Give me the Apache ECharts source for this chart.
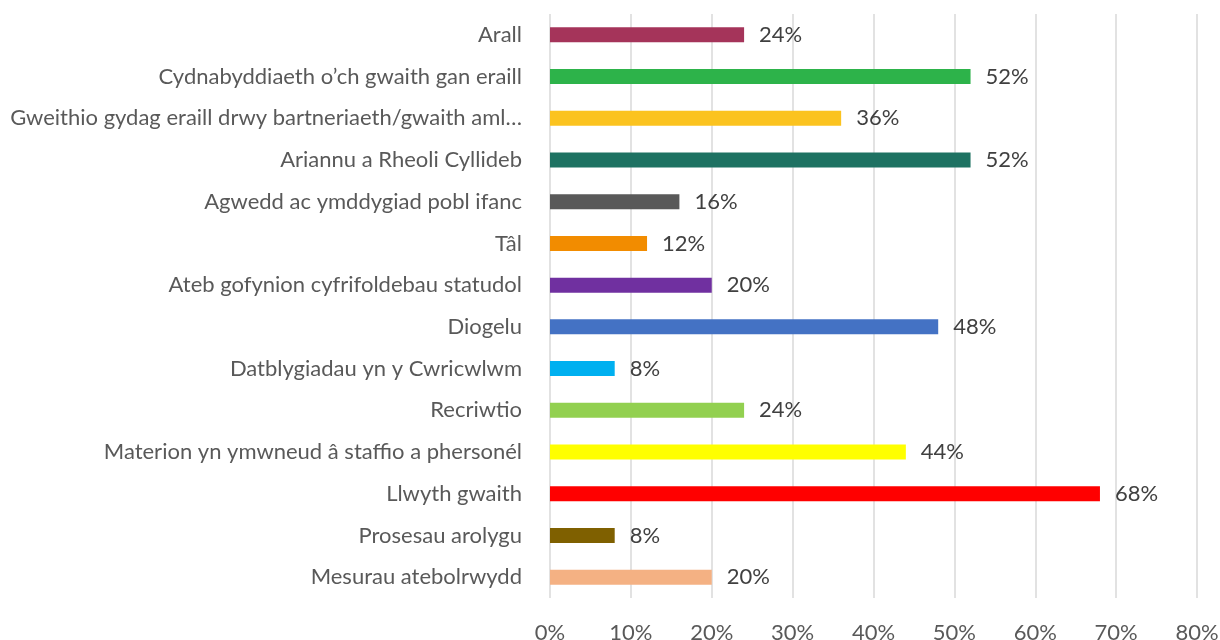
<!DOCTYPE html>
<html>
<head>
<meta charset="utf-8">
<script src="https://cdn.jsdelivr.net/npm/echarts@6/dist/echarts.min.js"></script>
<style>
  html, body { margin: 0; padding: 0; background: #fff; }
  #chart { width: 1220px; height: 640px; }
</style>
</head>
<body>
<div id="chart"></div>
<script>
// categories listed bottom to top (as the category axis draws them)
var categories = [
  'Mesurau atebolrwydd',
  'Prosesau arolygu',
  'Llwyth gwaith',
  'Materion yn ymwneud â staffio a phersonél',
  'Recriwtio',
  'Datblygiadau yn y Cwricwlwm',
  'Diogelu',
  'Ateb gofynion cyfrifoldebau statudol',
  'Tâl',
  'Agwedd ac ymddygiad pobl ifanc',
  'Ariannu a Rheoli Cyllideb',
  'Gweithio gydag eraill drwy bartneriaeth/gwaith aml…',
  'Cydnabyddiaeth o’ch gwaith gan eraill',
  'Arall'
];
var values = [20, 8, 68, 44, 24, 8, 48, 20, 12, 16, 52, 36, 52, 24];
var barColors = [
  '#F4B183', '#7F6000', '#FF0000', '#FFFF00', '#92D050', '#00B0F0', '#4472C4',
  '#7030A0', '#F28C00', '#595959', '#1E7262', '#FBC31F', '#2DB34A', '#A5345A'
];
var xTicks = [0, 10, 20, 30, 40, 50, 60, 70, 80];

var font = 'Lato, "Open Sans", sans-serif';
var chart = echarts.init(document.getElementById('chart'), null, { renderer: 'canvas' });
chart.setOption({
  animation: false,
  grid: {
    left: 550, right: 23, top: 14, bottom: 42,
    containLabel: false, outerBoundsMode: 'none'
  },
  xAxis: {
    type: 'value',
    min: xTicks[0],
    max: xTicks[xTicks.length - 1],
    interval: 10,
    axisLine: { show: false },
    axisTick: { show: false },
    axisLabel: {
      color: '#595959',
      fontFamily: font,
      fontSize: 22,
      margin: 24,
      formatter: function(v) { return v + '%'; }
    },
    splitLine: { show: true, lineStyle: { color: '#d9d9d9', width: 1.5 } }
  },
  yAxis: {
    type: 'category',
    data: categories,
    axisLine: { show: false },
    axisTick: { show: false },
    axisLabel: {
      color: '#595959',
      fontFamily: font,
      fontSize: 22,
      margin: 28
    }
  },
  series: [{
    type: 'bar',
    data: values.map(function(v, i) {
      return { value: v, itemStyle: { color: barColors[i] } };
    }),
    barWidth: 15,
    label: {
      show: true,
      position: 'right',
      distance: 15,
      color: '#404040',
      fontFamily: font,
      fontSize: 22,
      formatter: function(p) { return p.value + '%'; }
    }
  }]
});
window.addEventListener('resize', function() { chart.resize(); });
</script>
</body>
</html>
